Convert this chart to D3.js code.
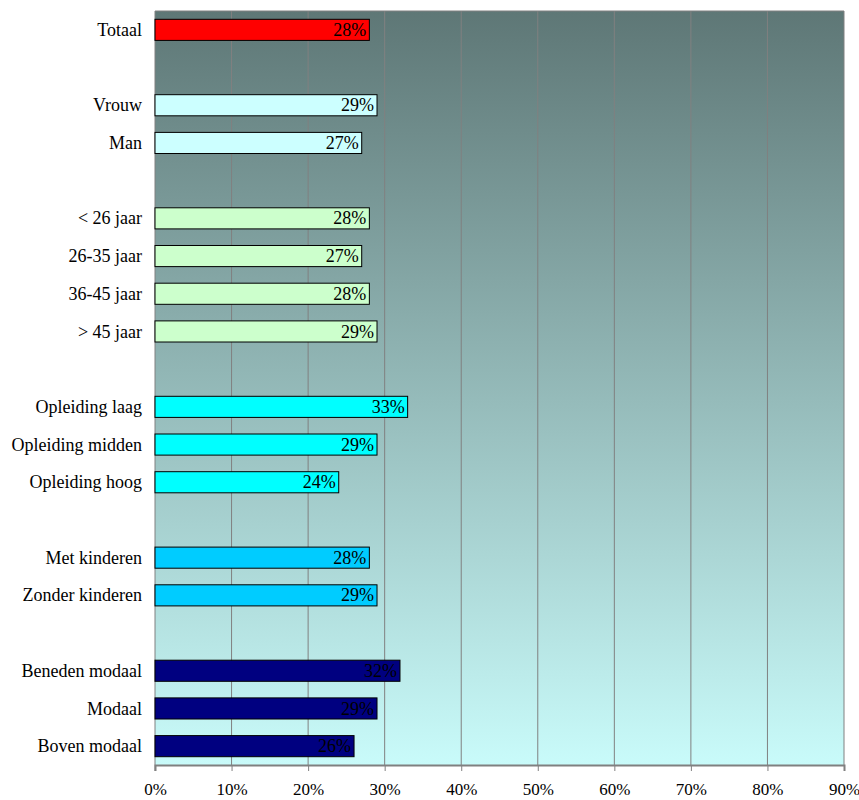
<!DOCTYPE html>
<html>
<head>
<meta charset="utf-8">
<script src="https://cdn.jsdelivr.net/npm/d3@7"></script>
<style>
	body { margin: 0; background: #fff; }
</style>
</head>
<body>
<div id="viz-container"></div>
<script>
var FONT = '"Times New Roman", "Liberation Serif", "DejaVu Serif", serif';

// groups of bars, separated by an empty slot
var groupLabels = [
	['Totaal'],
	['Vrouw', 'Man'],
	['< 26 jaar', '26-35 jaar', '36-45 jaar', '> 45 jaar'],
	['Opleiding laag', 'Opleiding midden', 'Opleiding hoog'],
	['Met kinderen', 'Zonder kinderen'],
	['Beneden modaal', 'Modaal', 'Boven modaal']
];
var groupValues = [
	[28],
	[29, 27],
	[28, 27, 28, 29],
	[33, 29, 24],
	[28, 29],
	[32, 29, 26]
];
var groupColors = ['#ff0000', '#ccffff', '#ccffcc', '#00ffff', '#00ccff', '#000080'];
var xTicks = [0, 10, 20, 30, 40, 50, 60, 70, 80, 90];

function init() {
	var svg = d3.select('#viz-container').append('svg')
		.attr('width', 859)
		.attr('height', 800)
		.style('display', 'block');

	var margin = {top: 11, right: 15, bottom: 35, left: 155},
	    width = 859 - margin.left - margin.right,
	    height = 800 - margin.top - margin.bottom;

	// flatten into slots, with gap slots between groups
	var slots = [];
	groupLabels.forEach(function(labels, gi) {
		if (gi > 0) slots.push({key: 'gap' + gi, gap: true});
		labels.forEach(function(l, i) {
			slots.push({key: l, label: l, value: groupValues[gi][i], color: groupColors[gi]});
		});
	});
	var bars = slots.filter(function(d) { return !d.gap; });

	var x = d3.scaleLinear().domain([0, 90]).range([0, width]);
	var y = d3.scaleBand()
		.domain(slots.map(function(d) { return d.key; }))
		.range([0, height])
		.paddingInner(0.44)
		.paddingOuter(0.22);

	var grad = svg.append('defs').append('linearGradient')
		.attr('id', 'bg')
		.attr('x1', 0).attr('y1', 0).attr('x2', 0).attr('y2', 1);
	grad.append('stop').attr('offset', '0%').attr('stop-color', '#5e7776');
	grad.append('stop').attr('offset', '100%').attr('stop-color', '#c9fbfa');

	var g = svg.append('g')
		.attr('transform', 'translate(' + margin.left + ',' + margin.top + ')');

	g.append('rect')
		.attr('width', width)
		.attr('height', height)
		.attr('fill', 'url(#bg)');

	// vertical gridlines
	g.append('g').selectAll('line')
		.data(xTicks.slice(1))
		.enter().append('line')
		.attr('x1', function(d) { return x(d); })
		.attr('x2', function(d) { return x(d); })
		.attr('y1', 0)
		.attr('y2', height)
		.attr('stroke', '#808080')
		.attr('stroke-width', 1);

	g.append('line')
		.attr('x1', 0).attr('x2', width)
		.attr('y1', 0).attr('y2', 0)
		.attr('stroke', '#808080');

	// x axis
	var xAxis = d3.axisBottom(x)
		.tickValues(xTicks)
		.tickSize(6)
		.tickPadding(12)
		.tickFormat(function(d) { return d + '%'; });
	var ax = g.append('g')
		.attr('transform', 'translate(0,' + height + ')')
		.call(xAxis)
		.attr('font-family', FONT)
		.attr('font-size', 17);
	ax.select('.domain').attr('stroke', '#808080').attr('stroke-width', 2);
	ax.selectAll('.tick line').attr('stroke', '#808080');
	ax.selectAll('.tick text').attr('fill', '#000');

	// left axis line
	g.append('line')
		.attr('x1', 0).attr('x2', 0)
		.attr('y1', 0).attr('y2', height + 6)
		.attr('stroke', '#808080');

	// bars
	g.append('g').selectAll('rect')
		.data(bars)
		.enter().append('rect')
		.attr('x', 0)
		.attr('y', function(d) { return y(d.key); })
		.attr('width', function(d) { return x(d.value); })
		.attr('height', y.bandwidth())
		.attr('fill', function(d) { return d.color; })
		.attr('stroke', '#000')
		.attr('stroke-width', 1);

	// value labels
	g.append('g')
		.attr('font-family', FONT)
		.attr('font-size', 18)
		.selectAll('text')
		.data(bars)
		.enter().append('text')
		.attr('x', function(d) { return x(d.value) - 3; })
		.attr('y', function(d) { return y(d.key) + y.bandwidth() / 2; })
		.attr('dy', '0.34em')
		.attr('text-anchor', 'end')
		.text(function(d) { return d.value + '%'; });

	// category labels
	g.append('g')
		.attr('font-family', FONT)
		.attr('font-size', 18)
		.selectAll('text')
		.data(bars)
		.enter().append('text')
		.attr('x', -13)
		.attr('y', function(d) { return y(d.key) + y.bandwidth() / 2; })
		.attr('dy', '0.34em')
		.attr('text-anchor', 'end')
		.text(function(d) { return d.label; });
}

init();
</script>
</body>
</html>
